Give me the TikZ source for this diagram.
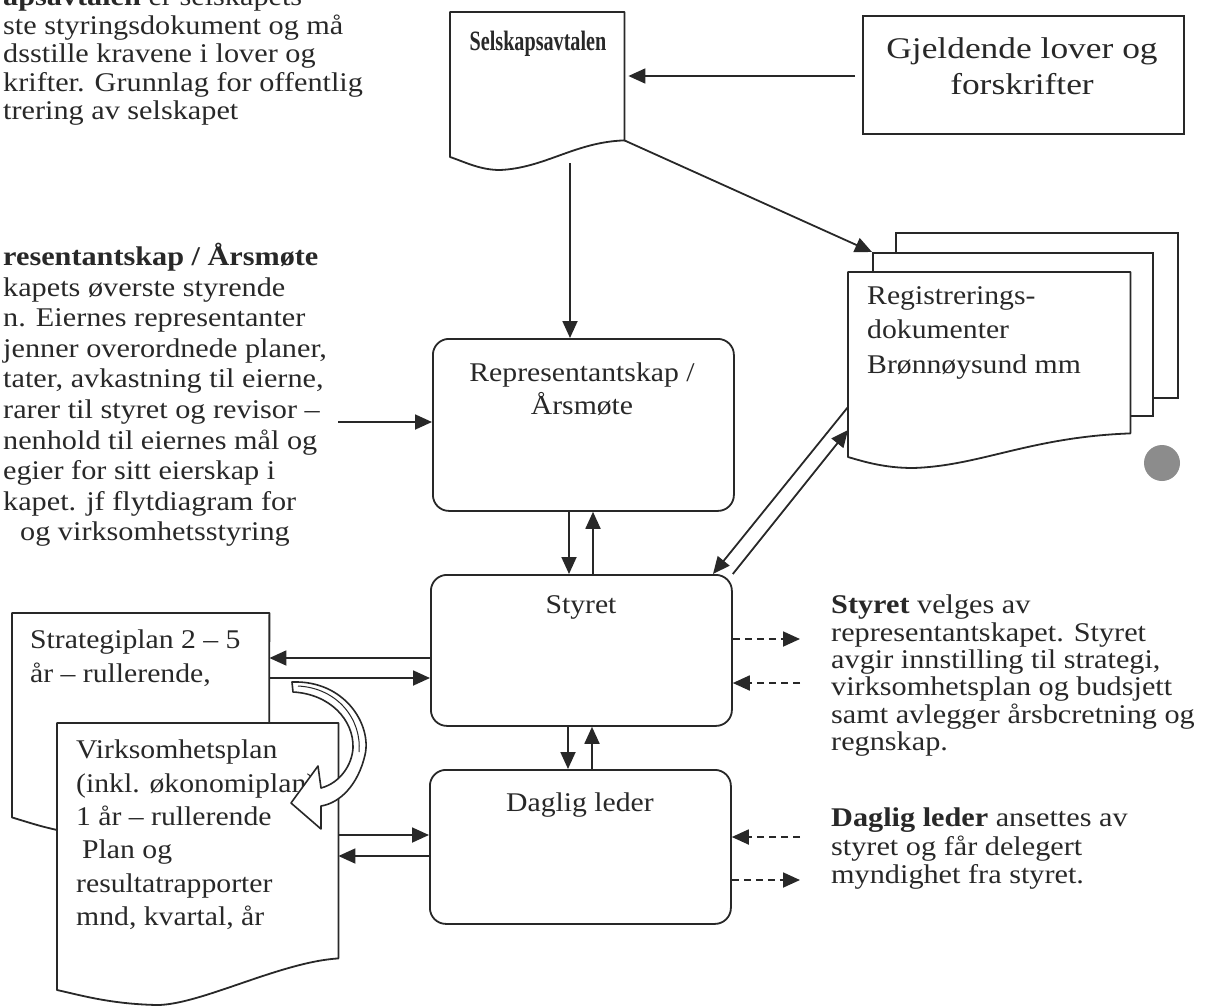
\documentclass[tikz,border=0pt]{standalone}
\usepackage{fontspec}
\setmainfont{Liberation Serif}
\newfontfamily\sidefont[FakeStretch=1.12]{Liberation Serif}
\newfontfamily\boxfont[FakeStretch=1.1]{Liberation Serif}
\newfontfamily\lovfont[FakeStretch=1.18]{Liberation Serif}
\newfontfamily\selfont[FakeStretch=0.72]{Liberation Serif}
\usetikzlibrary{arrows.meta,calc}
\definecolor{ink}{RGB}{40,40,40}
\definecolor{dotgray}{RGB}{140,140,140}
\tikzset{
  ln/.style={draw=ink, line width=1.8pt},
  arr/.style={ln, -{Triangle[length=17pt,width=15pt]}},
  darr/.style={arr, dash pattern=on 7pt off 5pt},
  rbox/.style={draw=ink, line width=1.8pt, rounded corners=16pt, minimum width=301pt, anchor=north west, inner sep=0pt, fill=white},
  ghost/.style={anchor=north west, inner sep=0pt},
  docshape/.style={draw=ink, line width=1.8pt, fill=white, line join=round},
  boxtxt/.style={font=\boxfont\fontsize{27}{33}\selectfont, text=ink, align=center, inner sep=0pt},
  doctxt/.style={font=\boxfont\fontsize{27}{33.3}\selectfont, text=ink, align=left, inner sep=0pt, anchor=north west},
  side/.style={font=\sidefont\fontsize{27}{28.5}\selectfont, text=ink, align=left, inner sep=0pt, anchor=north west},
}
\begin{document}
\begin{tikzpicture}[x=1pt,y=-1pt]
\useasboundingbox (0,0) rectangle (1213,1007);
\clip (0,0) rectangle (1213,1007);

% ---------- side texts ----------
\node[side] (ptop) at (3,-13) {\textbf{apsavtalen} er selskapets\\ste styringsdokument og må\\dsstille kravene i lover og\\krifter. Grunnlag for offentlig\\trering av selskapet};
\node[side, font=\sidefont\fontsize{27}{30.6}\selectfont] (prep) at (3,243) {\textbf{resentantskap / Årsmøte}\\kapets øverste styrende\\n. Eiernes representanter\\jenner overordnede planer,\\tater, avkastning til eierne,\\rarer til styret og revisor –\\nenhold til eiernes mål og\\egier for sitt eierskap i\\kapet. jf flytdiagram for\\\hspace*{17pt}og virksomhetsstyring};
\node[side, font=\sidefont\fontsize{27}{27.3}\selectfont] (psty) at (831,595) {\textbf{Styret} velges av\\representantskapet. Styret\\avgir innstilling til strategi,\\virksomhetsplan og budsjett\\samt avlegger årsbcretning og\\regnskap.};
\node[side] (pdag) at (831,808) {\textbf{Daglig leder} ansettes av\\styret og får delegert\\myndighet fra styret.};

% ---------- Selskapsavtalen document ----------
\node[ghost, minimum width=174pt, minimum height=128pt] (sel) at (450,12) {};
\draw[docshape] (sel.north west) -- (sel.north east) -- (sel.south east)
  .. controls (575,142) and (545,168) .. (500,170)
  .. controls (480,170) and (465,162) .. (450,157) -- cycle;
\node[boxtxt, font=\selfont\bfseries\fontsize{28}{32}\selectfont] (seltxt) at (538,44) {Selskapsavtalen};

% ---------- Gjeldende lover ----------
\node[ghost, draw=ink, line width=1.8pt, minimum width=321pt, minimum height=118pt] (lov) at (862,15) {};
\node[boxtxt, font=\lovfont\fontsize{30}{36}\selectfont] (lovtxt) at (1022,66) {Gjeldende lover og\\forskrifter};

% ---------- Registrerings stack ----------
\node[ghost, draw=ink, line width=1.8pt, fill=white, minimum width=282pt, minimum height=165pt] (reg3) at (895,232) {};
\node[ghost, draw=ink, line width=1.8pt, fill=white, minimum width=280pt, minimum height=163pt] (reg2) at (872,252) {};
\node[ghost, minimum width=282pt, minimum height=161pt] (reg) at (848,272) {};
\draw[docshape] (reg.north west) -- (reg.north east) -- (reg.south east)
  .. controls (1030,437) and (980,466) .. (913,468)
  .. controls (885,468) and (865,462) .. (848,457) -- cycle;
\node[doctxt, font=\boxfont\fontsize{27}{34.5}\selectfont] (regtxt) at (867,286) {Registrerings-\\dokumenter\\Brønnøysund mm};
\node[circle, fill=dotgray, minimum size=36pt, inner sep=0pt] (dot) at (1162,463) {};

% ---------- rounded boxes ----------
\node[rbox, minimum height=172pt] (rep) at (432,338) {};
\node[boxtxt] (reptxt) at (582,389) {Representantskap /\\Årsmøte};
\node[rbox, minimum height=151pt] (sty) at (430,574) {};
\node[boxtxt] (stytxt) at (581,607) {Styret};
\node[rbox, minimum height=154pt] (dag) at (429,769) {};
\node[boxtxt] (dagtxt) at (580,805) {Daglig leder};

% ---------- Strategiplan / Virksomhetsplan ----------
\node[ghost, minimum width=257pt, minimum height=204pt] (strat) at (12,613) {};
\draw[docshape] (strat.north west) -- (strat.north east) -- (269,830) -- (57,830)
  .. controls (40,826) .. (strat.south west) -- cycle;
\node[doctxt, font=\boxfont\fontsize{27}{33.5}\selectfont] (strattxt) at (30,630) {Strategiplan 2 – 5\\år – rullerende,};
\node[ghost, minimum width=281pt, minimum height=235pt] (virk) at (57,723) {};
\draw[docshape] (virk.north west) -- (virk.north east) -- (virk.south east)
  .. controls (280,962) and (200,1005) .. (157,1005)
  .. controls (110,1004) and (80,995) .. (57,990) -- cycle;
\node[doctxt] (virktxt) at (76,740) {Virksomhetsplan\\(inkl. økonomiplan)\\1 år – rullerende\\\hspace*{6pt}Plan og\\resultatrapporter\\mnd, kvartal, år};

% curved block arrow
\draw[docshape, line width=1.6pt] (292,682)
  .. controls (345,680) and (372,725) .. (365,755)
  .. controls (358,785) and (340,803) .. (321,806)
  -- (321,829) -- (291,803) -- (318,766) -- (321,788)
  .. controls (340,783) and (352,765) .. (353,748)
  .. controls (354,720) and (330,694) .. (293,692) -- cycle;
\draw[ink, line width=1pt] (298,686) .. controls (338,688) and (362,720) .. (359,752);

% ---------- connectors ----------
\draw[arr, shorten <=7pt] (lov.west |- 0,76) -- ($(sel.east |- 0,76)+(4,0)$);
\coordinate (selb) at (570,163);
\draw[arr] (selb) -- (selb |- rep.north);
\draw[arr] (sel.south east) -- (reg2.north west);
\coordinate (ltxt) at (338,422);
\draw[arr] (ltxt) -- (rep.west |- ltxt);

\draw[arr] (rep.south -| 569,0) -- (sty.north -| 569,0);
\draw[arr] (sty.north -| 593,0) -- (rep.south -| 593,0);
\draw[arr] (sty.south -| 568,0) -- (dag.north -| 568,0);
\draw[arr] (dag.north -| 592,0) -- (sty.south -| 592,0);

\draw[arr] (reg.west |- 0,407) -- (sty.north -| 713,0);
\draw[arr] (sty.north east) -- (reg.west |- 0,430);

\draw[arr] (sty.west |- 0,658) -- (strat.east |- 0,658);
\draw[arr] (strat.east |- 0,678) -- (sty.west |- 0,678);
\draw[arr] (virk.east |- 0,835) -- (dag.west |- 0,835);
\draw[arr] (dag.west |- 0,856) -- (virk.east |- 0,856);

\coordinate (ds1) at (800,639);
\coordinate (ds2) at (800,683);
\coordinate (ds3) at (800,837);
\coordinate (ds4) at (800,880);
\draw[darr] (sty.east |- ds1) -- (ds1);
\draw[darr] (ds2) -- (sty.east |- ds2);
\draw[darr] (ds3) -- (dag.east |- ds3);
\draw[darr] (dag.east |- ds4) -- (ds4);
\end{tikzpicture}
\end{document}
